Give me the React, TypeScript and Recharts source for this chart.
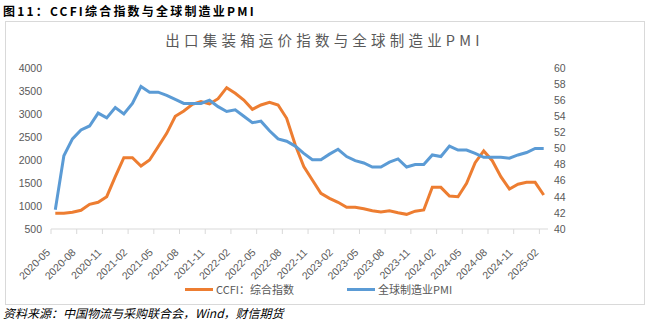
import { LineChart, Line, XAxis, YAxis, Legend } from 'recharts';

const months = [
  '2020-05', '2020-06', '2020-07', '2020-08', '2020-09', '2020-10', '2020-11', '2020-12',
  '2021-01', '2021-02', '2021-03', '2021-04', '2021-05', '2021-06', '2021-07', '2021-08',
  '2021-09', '2021-10', '2021-11', '2021-12', '2022-01', '2022-02', '2022-03', '2022-04',
  '2022-05', '2022-06', '2022-07', '2022-08', '2022-09', '2022-10', '2022-11', '2022-12',
  '2023-01', '2023-02', '2023-03', '2023-04', '2023-05', '2023-06', '2023-07', '2023-08',
  '2023-09', '2023-10', '2023-11', '2023-12', '2024-01', '2024-02', '2024-03', '2024-04',
  '2024-05', '2024-06', '2024-07', '2024-08', '2024-09', '2024-10', '2024-11', '2024-12',
  '2025-01', '2025-02',
];

// CCFI composite index (left axis)
const ccfi = [
  841, 841, 863, 906, 1037, 1080, 1202, 1637, 2050, 2050,
  1870, 2000, 2289, 2580, 2950, 3065, 3211, 3268, 3218, 3333,
  3572, 3450, 3304, 3102, 3196, 3254, 3196, 2907, 2330, 1855,
  1565, 1276, 1167, 1080, 972, 972, 941, 898, 870, 898,
  854, 819, 888, 913, 1406, 1406, 1217, 1202, 1493, 1941,
  2196, 1985, 1637, 1370, 1472, 1515, 1515, 1239,
];

// global manufacturing PMI (right axis)
const pmi = [
  42.4, 49.1, 51.2, 52.3, 52.8, 54.4, 53.8, 55.1, 54.3, 55.6,
  57.7, 57.0, 57.0, 56.6, 56.1, 55.6, 55.6, 55.6, 56.0, 55.2,
  54.6, 54.8, 54.0, 53.2, 53.4, 52.2, 51.2, 50.9, 50.3, 49.4,
  48.6, 48.6, 49.3, 49.9, 49.0, 48.5, 48.2, 47.7, 47.7, 48.3,
  48.7, 47.7, 48.0, 48.0, 49.2, 49.0, 50.3, 49.8, 49.8, 49.4,
  48.9, 48.9, 48.9, 48.8, 49.2, 49.5, 50.0, 50.0,
];

const leftTicks = [500, 1000, 1500, 2000, 2500, 3000, 3500, 4000];
const rightTicks = [40, 42, 44, 46, 48, 50, 52, 54, 56, 58, 60];

const data = months.map((m, i) => ({ month: m, ccfi: ccfi[i], pmi: pmi[i] }));

const ORANGE = '#ED7D31';
const BLUE = '#5B9BD5';
const AXIS_FONT = '"Liberation Sans", Arial, sans-serif';
const CJK_FONT = '"Noto Sans CJK SC", sans-serif';

const XTick = ({ x, y, payload }: any) => (
  <g>
    <line x1={x - 4.3} x2={x - 4.3} y1={y} y2={y + 5} stroke="#d9d9d9" />
    <text
      x={x - 4.5}
      y={y + 24}
      transform={`rotate(-45 ${x - 4.5} ${y + 24})`}
      textAnchor="end"
      fontSize={10.5}
      fontFamily={AXIS_FONT}
      fill="#595959"
    >
      {payload.value}
    </text>
  </g>
);

const LegendContent = () => (
  <div style={{ height: 20, display: 'flex', alignItems: 'center', paddingLeft: 185, fontFamily: CJK_FONT, fontSize: 11, color: '#595959' }}>
    <span style={{ display: 'inline-block', width: 28, height: 3, background: ORANGE }} />
    <span style={{ marginLeft: 3 }}>CCFI：综合指数</span>
    <span style={{ display: 'inline-block', width: 28, height: 3, background: BLUE, marginLeft: 53 }} />
    <span style={{ marginLeft: 3 }}>全球制造业PMI</span>
  </div>
);

export default function App() {
  return (
    <div style={{ position: 'absolute', top: 0, left: 0, width: 649, height: 325, background: '#fff', overflow: 'hidden' }}>
      <div style={{ position: 'absolute', left: 3, top: 3, fontFamily: CJK_FONT, fontWeight: 700, fontSize: 12, letterSpacing: 2.2, color: '#000', lineHeight: '16px' }}>
        图11：CCFI综合指数与全球制造业PMI
      </div>
      <div style={{ position: 'absolute', left: 5, top: 21, width: 638, height: 282, border: '1px solid #d9d9d9' }} />
      <div style={{ position: 'absolute', left: 0, top: 30, width: 649, textAlign: 'center', fontFamily: CJK_FONT, fontSize: 14.5, letterSpacing: 4.2, color: '#595959', lineHeight: '20px' }}>
        出口集装箱运价指数与全球制造业PMI
      </div>
      <div style={{ position: 'absolute', left: 0, top: 0 }}>
        <LineChart width={649} height={300} data={data} margin={{ top: 68, right: 41, left: 0, bottom: 1 }}>
          <XAxis
            dataKey="month"
            interval={2}
            padding={{ left: 4.3, right: 4.3 }}
            height={50}
            tickSize={0}
            tickMargin={0}
            tickLine={false}
            axisLine={{ stroke: '#d9d9d9' }}
            tick={<XTick />}
          />
          <YAxis
            yAxisId="left"
            width={51}
            domain={[500, 4000]}
            ticks={leftTicks}
            axisLine={false}
            tickLine={false}
            tickSize={6}
            tickMargin={3}
            tick={{ fontSize: 10.5, fill: '#595959', fontFamily: AXIS_FONT }}
          />
          <YAxis
            yAxisId="right"
            orientation="right"
            width={60}
            domain={[40, 60]}
            ticks={rightTicks}
            axisLine={false}
            tickLine={false}
            tickSize={4}
            tickMargin={2}
            tick={{ fontSize: 10.5, fill: '#595959', fontFamily: AXIS_FONT }}
          />
          <Legend verticalAlign="bottom" content={<LegendContent />} />
          <Line
            yAxisId="left"
            type="linear"
            dataKey="ccfi"
            name="CCFI：综合指数"
            stroke={ORANGE}
            strokeWidth={3}
            dot={false}
            isAnimationActive={false}
          />
          <Line
            yAxisId="right"
            type="linear"
            dataKey="pmi"
            name="全球制造业PMI"
            stroke={BLUE}
            strokeWidth={3}
            dot={false}
            isAnimationActive={false}
          />
        </LineChart>
      </div>
      <div style={{ position: 'absolute', left: 3, top: 305, fontFamily: CJK_FONT, fontStyle: 'italic', fontSize: 12, color: '#000', lineHeight: '16px' }}>
        资料来源：中国物流与采购联合会，Wind，财信期货
      </div>
    </div>
  );
}
